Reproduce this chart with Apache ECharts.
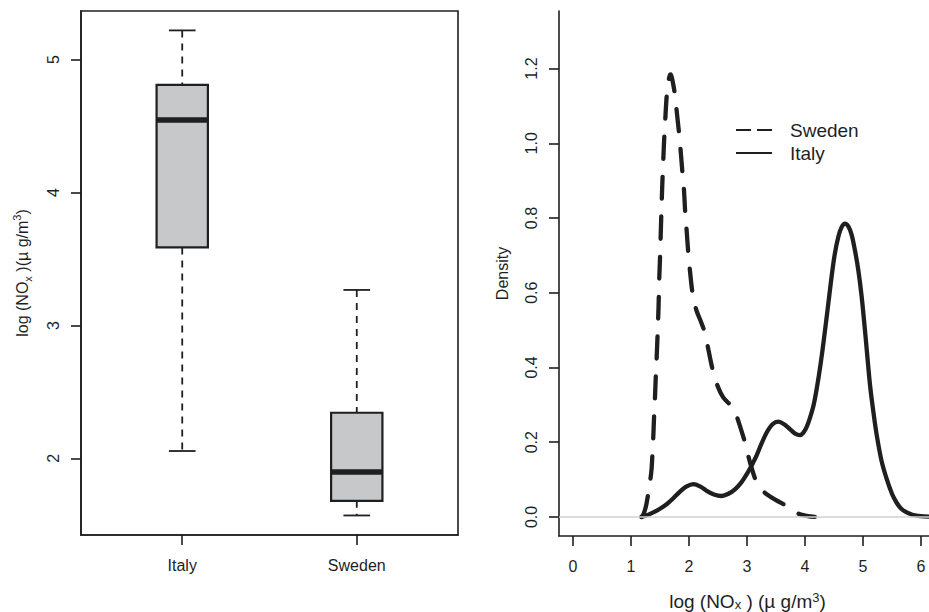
<!DOCTYPE html>
<html>
<head>
<meta charset="utf-8">
<script src="https://cdn.jsdelivr.net/npm/echarts@6/dist/echarts.min.js"></script>
<style>
html,body{margin:0;padding:0;background:#fff;}
#chart{width:929px;height:612px;}
</style>
</head>
<body>
<div id="chart"></div>
<script>
// ---- data ----
const categories = ['Italy', 'Sweden'];
// [lower whisker, Q1, median, Q3, upper whisker]
const italyBox  = [2.055, 3.587, 4.545, 4.81, 5.22];
const swedenBox = [1.57, 1.68, 1.897, 2.343, 3.267];
const boxTickValues = [2, 3, 4, 5];
const densityXTicks = [0, 1, 2, 3, 4, 5, 6];
const densityYTicks = [0, 0.2, 0.4, 0.6, 0.8, 1.0, 1.2];
const legendNames = ['Sweden', 'Italy'];

const swedenX = [1.18, 1.215, 1.26, 1.30, 1.33, 1.356, 1.37, 1.384, 1.40, 1.414, 1.43, 1.443, 1.46, 1.475, 1.488, 1.50, 1.51, 1.525, 1.54, 1.557, 1.575, 1.597, 1.615, 1.64, 1.665, 1.685, 1.71, 1.735, 1.76, 1.787, 1.833, 1.856, 1.891, 1.914, 1.937, 1.96, 1.989, 2.017, 2.063, 2.13, 2.20, 2.276, 2.333, 2.419, 2.505, 2.59, 2.68, 2.764, 2.85, 2.966, 3.052, 3.167, 3.26, 3.34, 3.50, 3.684, 3.80, 3.914, 4.05, 4.17];
const swedenDensity = [0, 0.007, 0.03, 0.065, 0.095, 0.13, 0.17, 0.212, 0.275, 0.32, 0.385, 0.427, 0.494, 0.56, 0.64, 0.69, 0.74, 0.82, 0.89, 0.955, 1.02, 1.08, 1.125, 1.16, 1.18, 1.184, 1.172, 1.152, 1.127, 1.088, 1.021, 0.981, 0.914, 0.874, 0.81, 0.766, 0.704, 0.659, 0.597, 0.552, 0.525, 0.492, 0.449, 0.387, 0.346, 0.32, 0.305, 0.295, 0.257, 0.199, 0.146, 0.092, 0.072, 0.061, 0.045, 0.0295, 0.017, 0.007, 0.002, 0];

const italyX = [1.18, 1.30, 1.385, 1.50, 1.615, 1.73, 1.845, 1.96, 2.075, 2.19, 2.305, 2.43, 2.563, 2.68, 2.793, 2.90, 2.994, 3.08, 3.167, 3.25, 3.34, 3.44, 3.54, 3.64, 3.74, 3.83, 3.914, 3.97, 4.03, 4.09, 4.15, 4.21, 4.27, 4.33, 4.39, 4.45, 4.51, 4.575, 4.63, 4.69, 4.75, 4.805, 4.862, 4.92, 4.977, 5.04, 5.12, 5.18, 5.236, 5.32, 5.41, 5.50, 5.58, 5.66, 5.753, 5.85, 5.95, 6.05, 6.26];
const italyDensity = [0, 0.006, 0.012, 0.022, 0.034, 0.05, 0.068, 0.082, 0.088, 0.082, 0.07, 0.06, 0.056, 0.062, 0.074, 0.092, 0.114, 0.138, 0.165, 0.196, 0.226, 0.248, 0.255, 0.248, 0.235, 0.223, 0.219, 0.225, 0.241, 0.267, 0.30, 0.35, 0.41, 0.48, 0.555, 0.632, 0.70, 0.75, 0.775, 0.785, 0.777, 0.755, 0.713, 0.66, 0.59, 0.49, 0.355, 0.28, 0.22, 0.15, 0.101, 0.062, 0.038, 0.022, 0.012, 0.006, 0.003, 0.0015, 0.0005];

// ---- chart ----
const INK = '#1f1f1f';
const FONT = "'Liberation Sans', Arial, Helvetica, sans-serif";

const boxData = [[1].concat(italyBox), [2].concat(swedenBox)];
const swedenData = swedenX.map((x, i) => [x, swedenDensity[i]]);
const italyData = italyX.map((x, i) => [x, italyDensity[i]]);

function renderBox(params, api) {
  const pos = api.value(0);
  const lo = api.value(1), q1 = api.value(2), med = api.value(3), q3 = api.value(4), hi = api.value(5);
  const p = (v) => api.coord([pos, v]);
  const xc = p(med)[0];
  const half = api.size([0.147, 0])[0];
  const cap = half * 0.52;
  const yLo = p(lo)[1], yQ1 = p(q1)[1], yMed = p(med)[1], yQ3 = p(q3)[1], yHi = p(hi)[1];
  const solid = { stroke: INK, lineWidth: 1.8 };
  const dashed = { stroke: INK, lineWidth: 1.8, lineDash: [7, 6] };
  return {
    type: 'group',
    children: [
      { type: 'line', shape: { x1: xc, y1: yHi, x2: xc, y2: yQ3 }, style: dashed },
      { type: 'line', shape: { x1: xc, y1: yQ1, x2: xc, y2: yLo }, style: dashed },
      { type: 'line', shape: { x1: xc - cap, y1: yHi, x2: xc + cap, y2: yHi }, style: solid },
      { type: 'line', shape: { x1: xc - cap, y1: yLo, x2: xc + cap, y2: yLo }, style: solid },
      { type: 'rect', shape: { x: xc - half, y: yQ3, width: 2 * half, height: yQ1 - yQ3 },
        style: { fill: '#c7c8ca', stroke: INK, lineWidth: 2.2 } },
      { type: 'line', shape: { x1: xc - half, y1: yMed, x2: xc + half, y2: yMed },
        style: { stroke: INK, lineWidth: 5.5 } }
    ]
  };
}

const nameRich = {
  n: { fontSize: 16, lineHeight: 22, fontFamily: FONT, color: INK },
  sub: { fontSize: 11, lineHeight: 11, verticalAlign: 'bottom', fontFamily: FONT, color: INK },
  sup: { fontSize: 11, lineHeight: 11, verticalAlign: 'top', fontFamily: FONT, color: INK }
};
const nameRichBig = {
  n: { fontSize: 19, lineHeight: 20, fontFamily: FONT, color: INK },
  sub: { fontSize: 13, lineHeight: 9, verticalAlign: 'bottom', fontFamily: FONT, color: INK },
  sup: { fontSize: 13, lineHeight: 10, verticalAlign: 'top', fontFamily: FONT, color: INK }
};

const axisLineStyle = { show: true, onZero: false, lineStyle: { color: INK, width: 1.6 } };
const tickStyle = (vals) => ({ show: true, length: 10, inside: false, customValues: vals, lineStyle: { color: INK, width: 1.6 } });

const option = {
  animation: false,
  backgroundColor: '#fff',
  textStyle: { fontFamily: FONT, color: INK },
  grid: [
    { left: 81, right: 471, top: 11, bottom: 77, show: true, borderColor: INK, borderWidth: 1.6,
      backgroundColor: 'transparent', containLabel: false, outerBoundsMode: 'none' },
    { left: 559, right: -7, top: 11, bottom: 76, containLabel: false, outerBoundsMode: 'none' }
  ],
  xAxis: [
    {
      gridIndex: 0, type: 'value', min: 0.42, max: 2.58,
      axisLine: axisLineStyle,
      axisTick: tickStyle([1, 2]),
      axisLabel: { customValues: [1, 2], margin: 22, fontSize: 16, color: INK, fontFamily: FONT,
        formatter: (v) => categories[Math.round(v) - 1] || '' },
      splitLine: { show: false }
    },
    {
      gridIndex: 1, type: 'value', min: -0.241, max: 6.259,
      axisLine: axisLineStyle,
      axisTick: tickStyle(densityXTicks),
      axisLabel: { customValues: densityXTicks, margin: 22, fontSize: 16, color: INK, fontFamily: FONT,
        formatter: (v) => String(Math.round(v)) },
      splitLine: { show: false },
      name: '{n|log (NO}{sub|x}{n| ) (µ g/m}{sup|3}{n|)}',
      nameLocation: 'middle', nameGap: 55,
      nameTextStyle: { rich: nameRichBig }
    }
  ],
  yAxis: [
    {
      gridIndex: 0, type: 'value', min: 1.423, max: 5.366,
      axisLine: axisLineStyle,
      axisTick: tickStyle(boxTickValues),
      axisLabel: { customValues: boxTickValues, rotate: 90, margin: 20, fontSize: 16, color: INK, fontFamily: FONT,
        formatter: (v) => String(Math.round(v)) },
      splitLine: { show: false },
      name: '{n|log (NO}{sub|x}{n| )(µ g/m}{sup|3}{n|)}',
      nameLocation: 'middle', nameRotate: 90, nameGap: 48,
      nameTextStyle: { rich: nameRich }
    },
    {
      gridIndex: 1, type: 'value', min: -0.051, max: 1.354,
      axisLine: axisLineStyle,
      axisTick: tickStyle(densityYTicks),
      axisLabel: { customValues: densityYTicks, rotate: 90, margin: 20, fontSize: 16, color: INK, fontFamily: FONT,
        formatter: (v) => v.toFixed(1) },
      splitLine: { show: false },
      name: 'Density',
      nameLocation: 'middle', nameRotate: 90, nameGap: 49,
      nameTextStyle: { fontSize: 16, color: INK, fontFamily: FONT }
    }
  ],
  graphic: [
    { type: 'line', shape: { x1: 736, y1: 130, x2: 772, y2: 130 }, style: { stroke: INK, lineWidth: 2, lineDash: [15, 6] } },
    { type: 'line', shape: { x1: 736, y1: 153, x2: 772, y2: 153 }, style: { stroke: INK, lineWidth: 2 } },
    { type: 'text', x: 790, y: 130, style: { text: legendNames[0], fontSize: 19, fontFamily: FONT, fill: INK, verticalAlign: 'middle' } },
    { type: 'text', x: 790, y: 153, style: { text: legendNames[1], fontSize: 19, fontFamily: FONT, fill: INK, verticalAlign: 'middle' } }
  ],
  series: [
    {
      type: 'custom', name: 'boxes', xAxisIndex: 0, yAxisIndex: 0,
      renderItem: renderBox,
      encode: { x: 0, y: [1, 2, 3, 4, 5] },
      data: boxData, silent: true
    },
    {
      type: 'line', name: 'Sweden', xAxisIndex: 1, yAxisIndex: 1,
      data: swedenData, showSymbol: false, symbol: 'none', smooth: 0.3,
      lineStyle: { color: INK, width: 4.3, type: [22, 18], cap: 'round', join: 'round' },
      itemStyle: { color: INK },
      z: 3,
      markLine: {
        silent: true, symbol: ['none', 'none'], label: { show: false },
        lineStyle: { color: '#d2d2d2', width: 1.5, type: 'solid' },
        data: [{ yAxis: 0 }]
      }
    },
    {
      type: 'line', name: 'Italy', xAxisIndex: 1, yAxisIndex: 1,
      data: italyData, showSymbol: false, symbol: 'none', smooth: 0.3,
      lineStyle: { color: INK, width: 4.3, type: 'solid', cap: 'round', join: 'round' },
      itemStyle: { color: INK },
      z: 4
    }
  ]
};

const chart = echarts.init(document.getElementById('chart'), null, { renderer: 'svg' });
chart.setOption(option);
</script>
</body>
</html>
